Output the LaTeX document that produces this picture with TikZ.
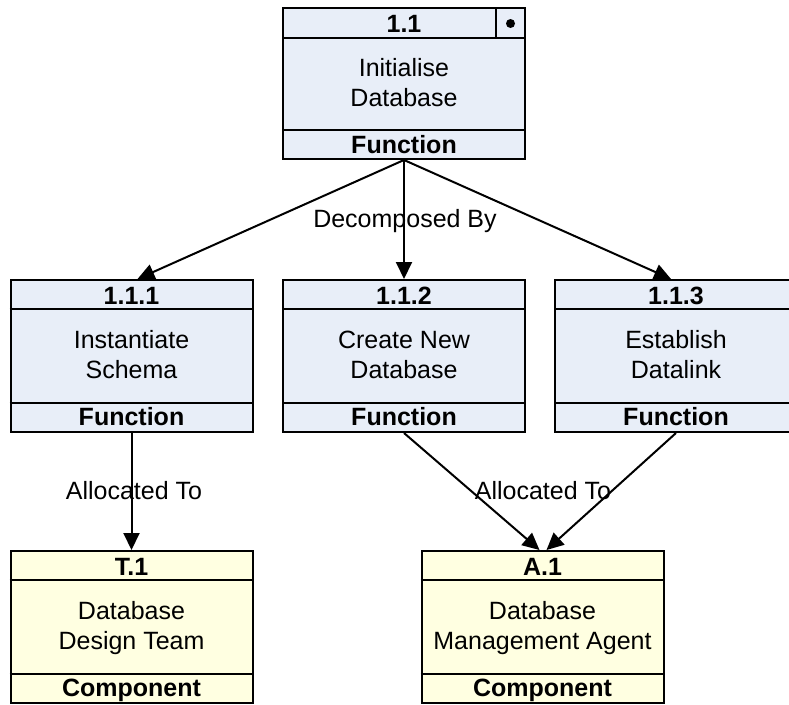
\documentclass[tikz,border=0pt]{standalone}
\usepackage{fontspec}
\setmainfont{Liberation Sans}
\usetikzlibrary{arrows.meta}
\definecolor{fnfill}{RGB}{232,238,248}
\definecolor{cpfill}{RGB}{255,255,225}
\begin{document}
\begin{tikzpicture}[x=1pt,y=-1pt,
  bd/.style={line width=2pt},
  fbox/.style={draw, line width=2pt, fill=fnfill, minimum width=242pt, minimum height=152pt, inner sep=0pt},
  cbox/.style={fbox, fill=cpfill},
  hd/.style={font=\fontsize{25}{30}\selectfont\bfseries, anchor=base, inner sep=0pt},
  bt/.style={font=\fontsize{25}{30}\selectfont, align=center, anchor=base, inner sep=0pt},
  lbl/.style={font=\fontsize{25}{30}\selectfont, anchor=base, inner sep=0pt},
  arr/.style={line width=2pt, -{Triangle[length=17pt,width=16pt]}}]
\useasboundingbox (0,0) rectangle (789,704);

% top function 1.1
\node[fbox, minimum height=151pt] (n11) at (404,83.5) {};
\draw[bd] ([yshift=-31pt]n11.north west) -- ([yshift=-31pt]n11.north east);
\draw[bd] ([yshift=30pt]n11.south west) -- ([yshift=30pt]n11.south east);
\draw[bd] ([xshift=-30pt]n11.north east) -- ([xshift=-30pt,yshift=-31pt]n11.north east);
\fill (510.5,23.5) circle[radius=4.5pt];
\node[hd] (n11h) at (404,32) {1.1};
\node[bt] (n11b) at (404,106) {Initialise\\Database};
\node[hd] (n11f) at (404,153) {Function};

% function row
\foreach \nm/\cx/\id/\la/\lb in {n111/131.5/1.1.1/Instantiate/Schema, n112/404/1.1.2/Create New/Database, n113/676/1.1.3/Establish/Datalink}{
  \node[fbox] (\nm) at (\cx,356) {};
  \draw[bd] ([yshift=-30pt]\nm.north west) -- ([yshift=-30pt]\nm.north east);
  \draw[bd] ([yshift=30pt]\nm.south west) -- ([yshift=30pt]\nm.south east);
  \node[hd] (\nm h) at (\cx,304) {\id};
  \node[bt] (\nm b) at (\cx,378) {\la\\\lb};
  \node[hd] (\nm f) at (\cx,425) {Function};
}

% component row
\foreach \nm/\cx/\id/\la/\lb in {t1/131.5/T.1/Database/Design Team, a1/542.5/A.1/Database/Management Agent}{
  \node[cbox] (\nm) at (\cx,627) {};
  \draw[bd] ([yshift=-30pt]\nm.north west) -- ([yshift=-30pt]\nm.north east);
  \draw[bd] ([yshift=30pt]\nm.south west) -- ([yshift=30pt]\nm.south east);
  \node[hd] (\nm h) at (\cx,575) {\id};
  \node[bt] (\nm b) at (\cx,649) {\la\\\lb};
  \node[hd] (\nm f) at (\cx,696) {Component};
}

% connectors
\draw[arr] (n11.south) -- ([xshift=6pt]n111.north);
\draw[arr] (n11.south) -- (n112.north);
\draw[arr] (n11.south) -- ([xshift=-5pt]n113.north);
\draw[arr] (n111.south) -- (t1.north);
\draw[arr] (n112.south) -- ([xshift=-3pt]a1.north);
\draw[arr] (n113.south) -- ([xshift=4pt]a1.north);

% labels
\node[lbl] (ldec) at (405,227) {Decomposed By};
\node[lbl] (lal1) at (134,499) {Allocated To};
\node[lbl] (lal2) at (543,499) {Allocated To};
\end{tikzpicture}
\end{document}
